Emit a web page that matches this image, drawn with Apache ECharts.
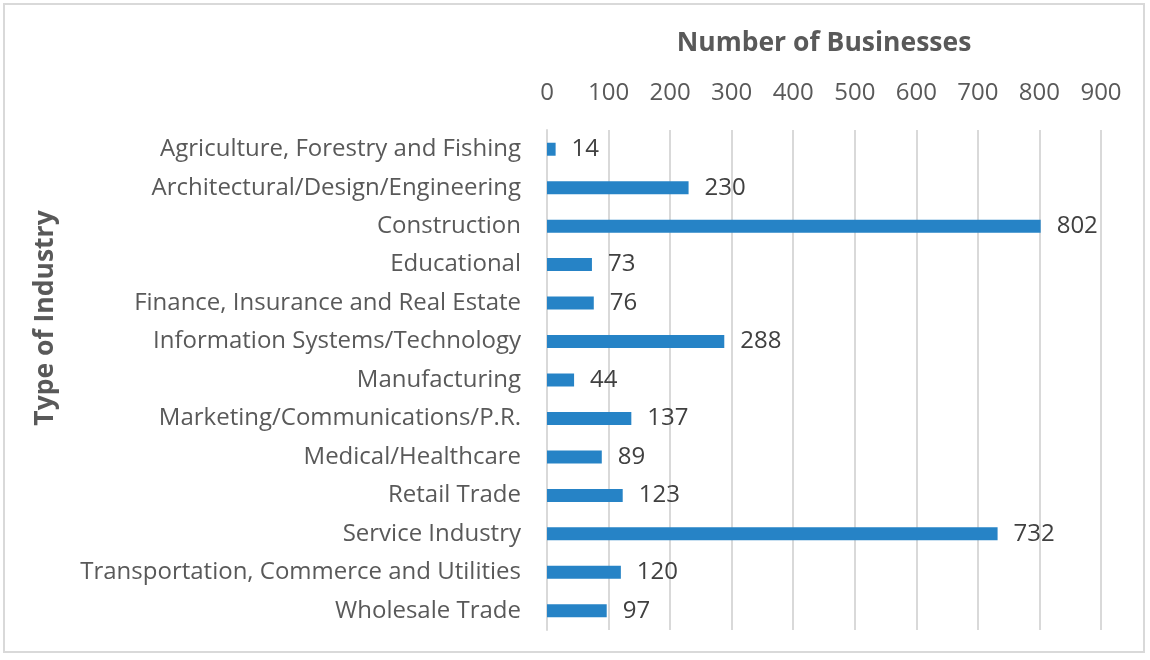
<!DOCTYPE html>
<html>
<head>
<meta charset="utf-8">
<script src="https://cdn.jsdelivr.net/npm/echarts@6/dist/echarts.min.js"></script>
<style>
  html, body { margin: 0; padding: 0; background: #fff; }
  #frame { position: absolute; left: 3px; top: 3px; width: 1142px; height: 650px; border: 2px solid #d9d9d9; box-sizing: border-box; }
  #chart { position: absolute; left: 0; top: 0; width: 1150px; height: 660px; }
</style>
</head>
<body>
<div id="frame"></div>
<div id="chart"></div>
<script>
const industries = [
  'Agriculture, Forestry and Fishing',
  'Architectural/Design/Engineering',
  'Construction',
  'Educational',
  'Finance, Insurance and Real Estate',
  'Information Systems/Technology',
  'Manufacturing',
  'Marketing/Communications/P.R.',
  'Medical/Healthcare',
  'Retail Trade',
  'Service Industry',
  'Transportation, Commerce and Utilities',
  'Wholesale Trade'
];
const businessCounts = [14, 230, 802, 73, 76, 288, 44, 137, 89, 123, 732, 120, 97];
const xTicks = { min: 0, max: 900, step: 100 };

const font = '"Open Sans", "Noto Sans", sans-serif';
const chart = echarts.init(document.getElementById('chart'));
chart.setOption({
  backgroundColor: 'transparent',
  textStyle: { fontFamily: font },
  grid: { left: 547, right: 49, top: 130, bottom: 30 },
  // vertical axis title, placed beside the category labels
  graphic: [{
    type: 'text',
    x: 45,
    y: 318,
    rotation: Math.PI / 2,
    style: {
      text: 'Type of Industry',
      fontFamily: font,
      fontSize: 26.5,
      fontWeight: 'bold',
      fill: '#595959',
      textAlign: 'center',
      textVerticalAlign: 'middle'
    }
  }],
  xAxis: {
    type: 'value',
    position: 'top',
    min: xTicks.min, max: xTicks.max, interval: xTicks.step,
    name: 'Number of Businesses',
    nameLocation: 'middle',
    nameGap: 73,
    nameTextStyle: { fontFamily: font, fontSize: 26.5, fontWeight: 'bold', color: '#595959' },
    axisLine: { show: false },
    axisTick: { show: false },
    axisLabel: { fontFamily: font, fontSize: 24, color: '#595959', margin: 25 },
    splitLine: { show: true, lineStyle: { color: '#d9d9d9', width: 2 } }
  },
  yAxis: {
    type: 'category',
    inverse: true,
    data: industries,
    axisLine: { show: true, lineStyle: { color: '#d9d9d9', width: 2 } },
    axisTick: { show: false },
    axisLabel: { fontFamily: font, fontSize: 24, color: '#595959', margin: 26 }
  },
  series: [{
    type: 'bar',
    data: businessCounts,
    barWidth: 13,
    itemStyle: { color: '#2683C6' },
    label: {
      show: true,
      position: 'right',
      distance: 16,
      fontFamily: font,
      fontSize: 24,
      color: '#404040'
    }
  }]
});
</script>
</body>
</html>
